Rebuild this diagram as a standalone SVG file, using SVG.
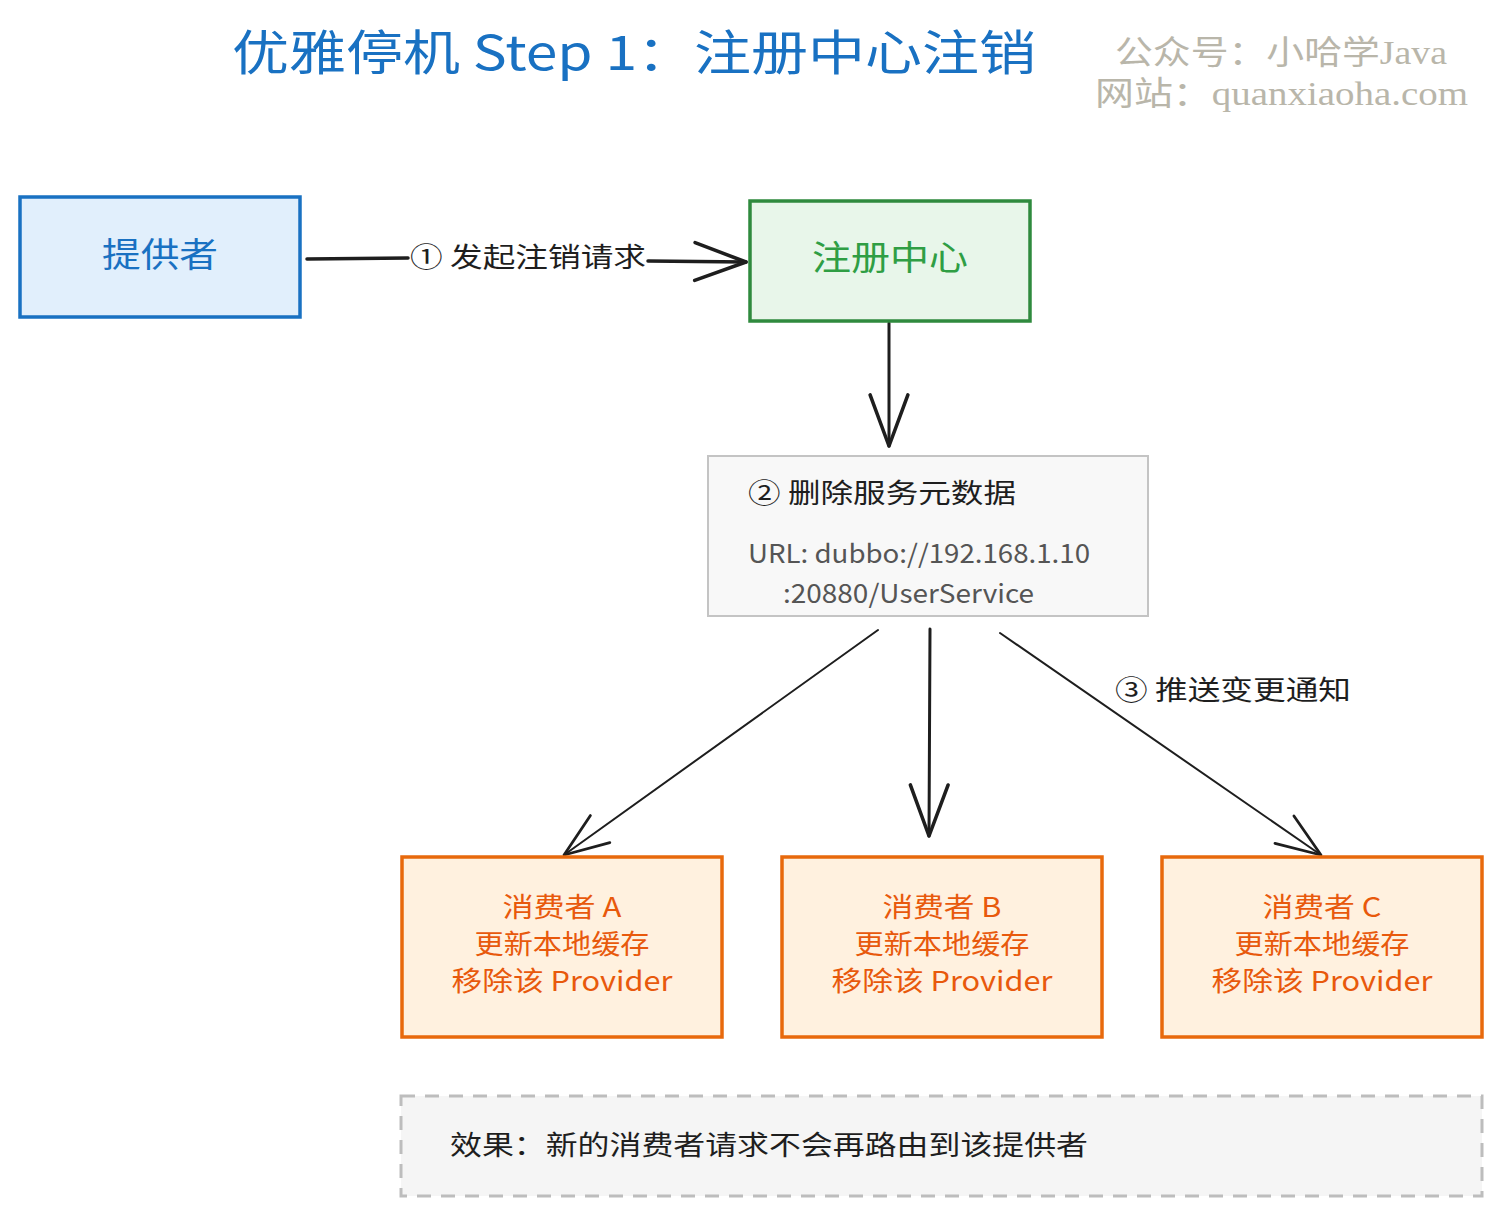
<svg xmlns="http://www.w3.org/2000/svg" width="1502" height="1217" viewBox="0 0 1502 1217">
<style>
text{font-family:"Noto Sans CJK SC","Noto Sans",sans-serif;}
.title{font-size:48px;fill:#1971c2;font-weight:400;}
.wm{font-family:"Liberation Serif","Noto Sans CJK SC",serif;font-size:33px;fill:#b9b6aa;}
.lbl{font-size:27px;fill:#1e1e1e;}
.cons{font-size:27px;fill:#e8590c;text-anchor:middle;}
.conn{fill:none;stroke:#1e1e1e;stroke-linecap:round;}
.cbox{fill:#fff1df;stroke:#e8690c;stroke-width:3.5;}
</style>
<defs>
<marker id="arr" markerWidth="60" markerHeight="60" viewBox="-50 -25 54 50" refX="0" refY="0" orient="auto" markerUnits="userSpaceOnUse">
<path d="M-46,-17 L0,0 L-46,17" fill="none" stroke="#1e1e1e" stroke-width="3.2" stroke-linecap="round" stroke-linejoin="round"/>
</marker>
<marker id="arr2" markerWidth="60" markerHeight="60" viewBox="-50 -25 54 50" refX="0" refY="0" orient="auto" markerUnits="userSpaceOnUse">
<path d="M-40,-15 L0,0 L-40,15" fill="none" stroke="#1e1e1e" stroke-width="2.5" stroke-linecap="round" stroke-linejoin="round"/>
</marker>
</defs>
<rect width="1502" height="1217" fill="#ffffff"/>

<g id="title">
<text class="title" x="232" y="70" textLength="804" lengthAdjust="spacingAndGlyphs">优雅停机 Step 1：注册中心注销</text>
</g>
<g id="watermark">
<text class="wm" x="1115" y="64" textLength="332" lengthAdjust="spacingAndGlyphs">公众号：小哈学Java</text>
<text class="wm" x="1095" y="105" textLength="373" lengthAdjust="spacingAndGlyphs">网站：quanxiaoha.com</text>
</g>

<g id="connectors">
<path class="conn" d="M307,259 L408,258" stroke-width="3.5"/>
<path class="conn" d="M648,261 L746,262" stroke-width="3.5" marker-end="url(#arr)"/>
<path class="conn" d="M889,323 L889,446" stroke-width="3" marker-end="url(#arr)"/>
<path class="conn" d="M878,630 L564,855" stroke-width="2" marker-end="url(#arr2)"/>
<path class="conn" d="M930,629 L929,836" stroke-width="3" marker-end="url(#arr)"/>
<path class="conn" d="M1000,633 L1321,855" stroke-width="2" marker-end="url(#arr2)"/>
<text class="lbl" x="410" y="267" textLength="236" lengthAdjust="spacingAndGlyphs">① 发起注销请求</text>
<text class="lbl" x="1115" y="700" textLength="236" lengthAdjust="spacingAndGlyphs">③ 推送变更通知</text>
</g>

<g id="provider">
<rect x="20" y="197" width="280" height="120" fill="#e1effc" stroke="#1971c2" stroke-width="3.5"/>
<text x="160" y="267" font-size="34" fill="#1971c2" text-anchor="middle" textLength="116" lengthAdjust="spacingAndGlyphs">提供者</text>
</g>

<g id="registry">
<rect x="750" y="201" width="280" height="120" fill="#e8f6ea" stroke="#2f8a3e" stroke-width="3.5"/>
<text x="890" y="270" font-size="34" fill="#2f9e44" text-anchor="middle" textLength="156" lengthAdjust="spacingAndGlyphs">注册中心</text>
</g>

<g id="metadata">
<rect x="708" y="456" width="440" height="160" fill="#f8f8f8" stroke="#c4c4c4" stroke-width="2"/>
<text class="lbl" x="748" y="503" font-size="28" textLength="268" lengthAdjust="spacingAndGlyphs">② 删除服务元数据</text>
<text x="748" y="563" font-size="26" fill="#555555" font-family="Lato,'Noto Sans',sans-serif" textLength="342" lengthAdjust="spacingAndGlyphs">URL: dubbo://192.168.1.10</text>
<text x="783" y="603" font-size="26" fill="#555555" font-family="Lato,'Noto Sans',sans-serif" textLength="251" lengthAdjust="spacingAndGlyphs">:20880/UserService</text>
</g>

<g id="consumerA">
<rect class="cbox" x="402" y="857" width="320" height="180"/>
<text class="cons" x="562" y="917" textLength="119" lengthAdjust="spacingAndGlyphs">消费者 A</text>
<text class="cons" x="562" y="954" textLength="175" lengthAdjust="spacingAndGlyphs">更新本地缓存</text>
<text class="cons" x="562" y="991" textLength="221" lengthAdjust="spacingAndGlyphs">移除该 Provider</text>
</g>
<g id="consumerB">
<rect class="cbox" x="782" y="857" width="320" height="180"/>
<text class="cons" x="942" y="917" textLength="119" lengthAdjust="spacingAndGlyphs">消费者 B</text>
<text class="cons" x="942" y="954" textLength="175" lengthAdjust="spacingAndGlyphs">更新本地缓存</text>
<text class="cons" x="942" y="991" textLength="221" lengthAdjust="spacingAndGlyphs">移除该 Provider</text>
</g>
<g id="consumerC">
<rect class="cbox" x="1162" y="857" width="320" height="180"/>
<text class="cons" x="1322" y="917" textLength="119" lengthAdjust="spacingAndGlyphs">消费者 C</text>
<text class="cons" x="1322" y="954" textLength="175" lengthAdjust="spacingAndGlyphs">更新本地缓存</text>
<text class="cons" x="1322" y="991" textLength="221" lengthAdjust="spacingAndGlyphs">移除该 Provider</text>
</g>

<g id="effect">
<rect x="401" y="1096" width="1081" height="100" fill="#f5f5f5" stroke="#bdbdbd" stroke-width="3" stroke-dasharray="14 10"/>
<text class="lbl" x="450" y="1155" textLength="638" lengthAdjust="spacingAndGlyphs">效果：新的消费者请求不会再路由到该提供者</text>
</g>
</svg>
